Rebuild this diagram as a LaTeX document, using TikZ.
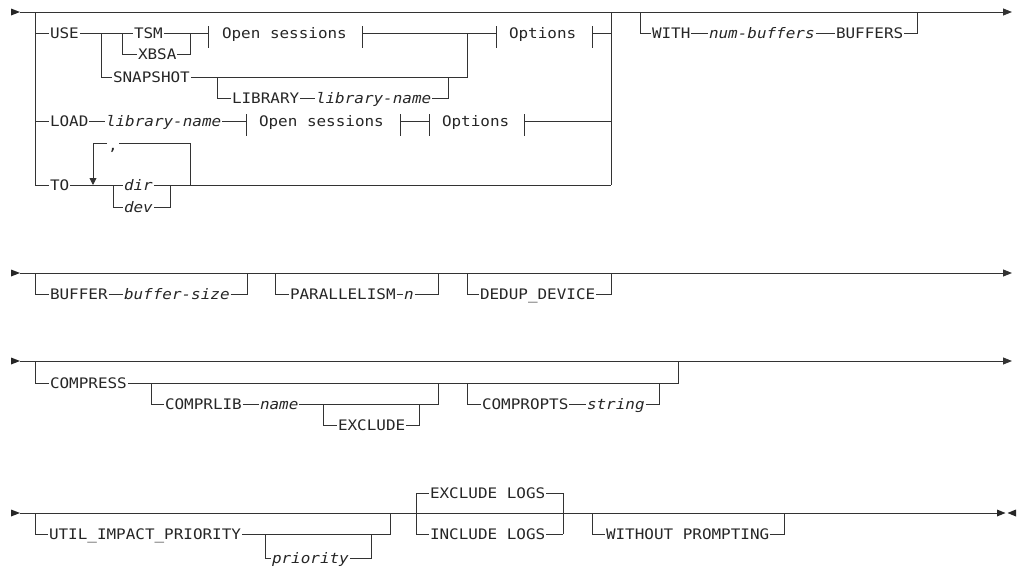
\documentclass[tikz,border=0pt]{standalone}
\usepackage{fontspec}
\usetikzlibrary{arrows.meta}
\newfontfamily\rrfont{DejaVu Sans Mono}[FakeStretch=1.1, ItalicFont={DejaVu Sans Mono Oblique}]
\tikzset{
  rail/.style={draw=black!80, line width=0.9pt},
  kw/.style={font=\rrfont\fontsize{14.5}{16}\selectfont, text=black!85, inner xsep=1pt, inner ysep=0pt, outer sep=0pt, text height=10.5pt, text depth=0pt, anchor=west},
  var/.style={kw, font=\rrfont\fontsize{14.5}{16}\selectfont\itshape},
  endarrow/.style={rail, -{Triangle[length=9pt,width=7pt]}},
}
\begin{document}
\begin{tikzpicture}[x=1pt,y=-1pt]
\useasboundingbox (0,0) rectangle (1018,570);

% ---------------- Row 1 ----------------
\fill[black!85] (11,8.5) -- (20,12) -- (11,15.5) -- cycle;
\coordinate (m1s) at (20,12);
\coordinate (m1e) at (1012,12);
\draw[endarrow] (m1s) -- (m1e);

\node[kw] (use) at (49,33) {USE};
\node[kw] (tsm) at (133,33) {TSM};
\node[kw] (xbsa) at (137,54) {XBSA};
\node[kw] (snap) at (112,77) {SNAPSHOT};
\node[kw] (lib) at (231,98) {LIBRARY};
\node[var] (libn) at (315,98) {library-name};
\node[kw] (os1) at (221,33) {Open sessions};
\node[kw] (opt1) at (508,33) {Options};
\node[kw] (load) at (49,121) {LOAD};
\node[var] (lname) at (105,121) {library-name};
\node[kw] (os2) at (258,121) {Open sessions};
\node[kw] (opt2) at (441,121) {Options};
\node[kw] (to) at (49,185) {TO};
\node[var] (dir) at (123,185) {dir};
\node[var] (dev) at (123,207) {dev};
\node[kw] (comma) at (107,145) {,};
\node[kw] (with) at (651,33) {WITH};
\node[var] (nbuf) at (708,33) {num-buffers};
\node[kw] (bufs) at (835,33) {BUFFERS};

\draw[rail] (35,12) -- (35,185);
\draw[rail] (35,33) -- (use.west);
\draw[rail] (use.east) -- (tsm.west);
\draw[rail] (101,33) |- (snap.west);
\draw[rail] (122,33) |- (xbsa.west);
\draw[rail] (tsm.east) -- (208,33);
\draw[rail] (xbsa.east) -| (190,33);
\draw[rail] (208,26) -- (208,48);
\draw[rail] (362,26) -- (362,48);
\draw[rail] (362,33) -- (496,33);
\draw[rail] (496,26) -- (496,48);
\draw[rail] (592,26) -- (592,48);
\draw[rail] (592,33) -- (611,33);
\draw[rail] (snap.east) -| (467,33);
\draw[rail] (217,77) |- (lib.west);
\draw[rail] (lib.east) -- (libn.west);
\draw[rail] (libn.east) -| (448,77);

\draw[rail] (35,121) -- (load.west);
\draw[rail] (load.east) -- (lname.west);
\draw[rail] (lname.east) -- (246,121);
\draw[rail] (246,114) -- (246,136);
\draw[rail] (400,114) -- (400,136);
\draw[rail] (400,121) -- (429,121);
\draw[rail] (429,114) -- (429,136);
\draw[rail] (524,114) -- (524,136);
\draw[rail] (524,121) -- (611,121);

\draw[rail] (35,185) -- (to.west);
\draw[rail] (to.east) -- (dir.west);
\draw[rail] (113,185) |- (dev.west);
\draw[rail] (dev.east) -| (170,185);
\draw[rail] (dir.east) -- (611,185);
\coordinate (lpR) at (190,143);
\coordinate (lpL) at (93,143);
\draw[rail] (190,185) -- (lpR) -- (lpR -| comma.east);
\draw[rail, -{Triangle[length=7pt,width=7pt]}] (lpL -| comma.west) -- (lpL) -- (93,185);

\draw[rail] (611,12) -- (611,185);
\draw[rail] (640,12) |- (with.west);
\draw[rail] (with.east) -- (nbuf.west);
\draw[rail] (nbuf.east) -- (bufs.west);
\draw[rail] (bufs.east) -| (917,12);

% ---------------- Row 2 ----------------
\fill[black!85] (11,269.5) -- (20,273) -- (11,276.5) -- cycle;
\coordinate (m2s) at (20,273);
\coordinate (m2e) at (1012,273);
\draw[endarrow] (m2s) -- (m2e);
\node[kw] (buffer) at (49,294) {BUFFER};
\node[var] (bsz) at (123,294) {buffer-size};
\node[kw] (par) at (289,294) {PARALLELISM};
\node[var] (nv) at (403,294) {n};
\node[kw] (dedup) at (479,294) {DEDUP\_DEVICE};
\draw[rail] (35,273) |- (buffer.west);
\draw[rail] (buffer.east) -- (bsz.west);
\draw[rail] (bsz.east) -| (247,273);
\draw[rail] (275,273) |- (par.west);
\draw[rail] (par.east) -- (nv.west);
\draw[rail] (nv.east) -| (438,273);
\draw[rail] (467,273) |- (dedup.west);
\draw[rail] (dedup.east) -| (611,273);

% ---------------- Row 3 ----------------
\fill[black!85] (11,357.5) -- (20,361) -- (11,364.5) -- cycle;
\coordinate (m3s) at (20,361);
\coordinate (m3e) at (1012,361);
\draw[endarrow] (m3s) -- (m3e);
\node[kw] (comp) at (49,383) {COMPRESS};
\node[kw] (clib) at (164,404) {COMPRLIB};
\node[var] (cname) at (259,404) {name};
\node[kw] (excl) at (337,425) {EXCLUDE};
\node[kw] (cpts) at (481,404) {COMPROPTS};
\node[var] (cstr) at (586,404) {string};
\draw[rail] (35,361) |- (comp.west);
\draw[rail] (comp.east) -| (678,361);
\draw[rail] (151,383) |- (clib.west);
\draw[rail] (clib.east) -- (cname.west);
\draw[rail] (cname.east) -| (438,383);
\draw[rail] (323,404) |- (excl.west);
\draw[rail] (excl.east) -| (419,404);
\draw[rail] (467,383) |- (cpts.west);
\draw[rail] (cpts.east) -- (cstr.west);
\draw[rail] (cstr.east) -| (659,383);

% ---------------- Row 4 ----------------
\fill[black!85] (11,509.5) -- (20,513) -- (11,516.5) -- cycle;
\coordinate (m4s) at (20,513);
\coordinate (m4e) at (997,513);
\draw[rail] (m4s) -- (m4e);
\fill[black!85] (997,509.5) -- (1005.5,513) -- (997,516.5) -- cycle;
\fill[black!85] (1016,509.5) -- (1007.5,513) -- (1016,516.5) -- cycle;
\node[kw] (util) at (48,534) {UTIL\_IMPACT\_PRIORITY};
\node[var] (prio) at (271,558) {priority};
\node[kw] (exl) at (429,493) {EXCLUDE LOGS};
\node[kw] (inl) at (429,534) {INCLUDE LOGS};
\node[kw] (wp) at (605,534) {WITHOUT PROMPTING};
\draw[rail] (35,513) |- (util.west);
\draw[rail] (util.east) -| (390,513);
\draw[rail] (265,534) |- (prio.west);
\draw[rail] (prio.east) -| (371,534);
\draw[rail] (416,534) |- (exl.west);
\draw[rail] (416,534) -- (inl.west);
\draw[rail] (exl.east) -| (563,534);
\draw[rail] (inl.east) -- (563,534);
\draw[rail] (592,513) |- (wp.west);
\draw[rail] (wp.east) -| (784,513);
\end{tikzpicture}
\end{document}
